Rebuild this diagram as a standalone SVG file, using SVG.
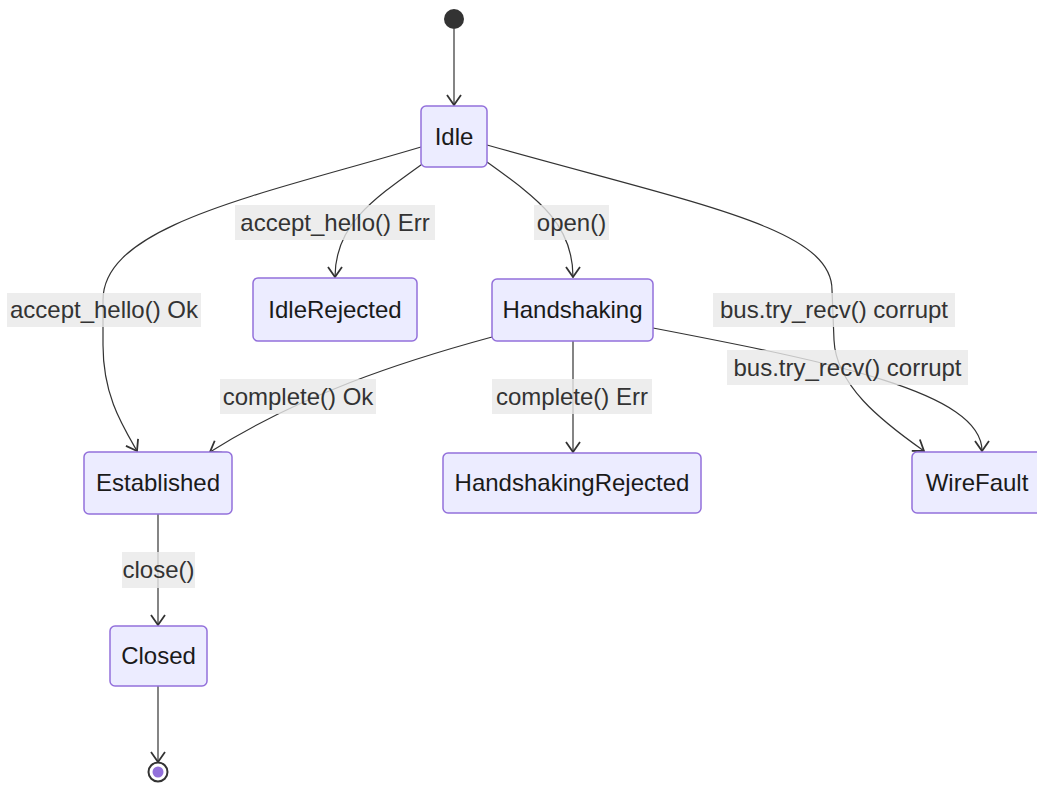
<svg xmlns="http://www.w3.org/2000/svg" width="1037" height="786" viewBox="0 0 1037 786">
<style>
.node rect{fill:#ECECFF;stroke:#9370DB;stroke-width:1.5}
.node text{font-family:"Liberation Sans",Arial,sans-serif;font-size:24px;fill:#1a1a1a;text-anchor:middle}
.edge{fill:none;stroke:#333;stroke-width:1.2;marker-end:url(#arr)}
.lbl rect{fill:rgb(232,232,232);opacity:0.8}
.lbl text{font-family:"Liberation Sans",Arial,sans-serif;font-size:24px;fill:#333;text-anchor:middle}
</style>
<defs>
<marker id="arr" markerUnits="userSpaceOnUse" viewBox="0 0 12 16" refX="11" refY="8" markerWidth="12" markerHeight="16" orient="auto">
<path d="M1,1 L11,8 L1,15" fill="none" stroke="#333" stroke-width="1.8"/>
</marker>
</defs>
<rect width="1037" height="786" fill="#fff"/>
<g id="connectors">
<path class="edge" d="M454,29 L454,105"/>
<path class="edge" d="M421,147 C260,195 103,225 103,300 L103,345 C103,395 122,425 137,451"/>
<path class="edge" d="M425,162 C372,200 335,225 335,277"/>
<path class="edge" d="M487,162 C540,200 573,225 573,277"/>
<path class="edge" d="M487,145 C700,205 832,228 832,290 L834,340 C836,385 880,420 924,451"/>
<path class="edge" d="M653,328 C830,362 982,392 982,451"/>
<path class="edge" d="M492,337 C400,362 300,395 210,452"/>
<path class="edge" d="M573,341 L573,452"/>
<path class="edge" d="M158,514 L158,625"/>
<path class="edge" d="M158,686 L158,762"/>
</g>
<g id="edge-labels">
<g class="lbl"><rect x="7" y="293" width="194" height="34"/><text x="104" y="318">accept_hello() Ok</text></g>
<g class="lbl"><rect x="235" y="205" width="200" height="35"/><text x="335" y="231">accept_hello() Err</text></g>
<g class="lbl"><rect x="534" y="205" width="75" height="35"/><text x="571.5" y="231">open()</text></g>
<g class="lbl"><rect x="713" y="293" width="242" height="34"/><text x="834" y="318">bus.try_recv() corrupt</text></g>
<g class="lbl"><rect x="727" y="350" width="241" height="35"/><text x="847.5" y="376">bus.try_recv() corrupt</text></g>
<g class="lbl"><rect x="220" y="379" width="156" height="35"/><text x="298" y="405">complete() Ok</text></g>
<g class="lbl"><rect x="492" y="379" width="160" height="35"/><text x="572" y="405">complete() Err</text></g>
<g class="lbl"><rect x="122" y="552" width="73" height="36"/><text x="158.5" y="578">close()</text></g>
</g>
<g id="start"><circle cx="454" cy="19" r="10" fill="#333"/></g>
<g id="Idle" class="node"><rect x="421" y="106" width="66" height="61" rx="5"/><text x="454" y="145">Idle</text></g>
<g id="IdleRejected" class="node"><rect x="253" y="278" width="164" height="63" rx="5"/><text x="335" y="318">IdleRejected</text></g>
<g id="Handshaking" class="node"><rect x="492" y="279" width="161" height="62" rx="5"/><text x="572.5" y="318">Handshaking</text></g>
<g id="Established" class="node"><rect x="84" y="452" width="148" height="62" rx="5"/><text x="158" y="491">Established</text></g>
<g id="HandshakingRejected" class="node"><rect x="443" y="453" width="258" height="60" rx="5"/><text x="572" y="491">HandshakingRejected</text></g>
<g id="WireFault" class="node"><rect x="912" y="452" width="130" height="61" rx="5"/><text x="977" y="491">WireFault</text></g>
<g id="Closed" class="node"><rect x="110" y="626" width="97" height="60" rx="5"/><text x="158.5" y="664">Closed</text></g>
<g id="end"><circle cx="158" cy="772" r="9.5" fill="#fff" stroke="#333" stroke-width="2"/><circle cx="158" cy="772" r="5.5" fill="#9370DB"/></g>
</svg>
